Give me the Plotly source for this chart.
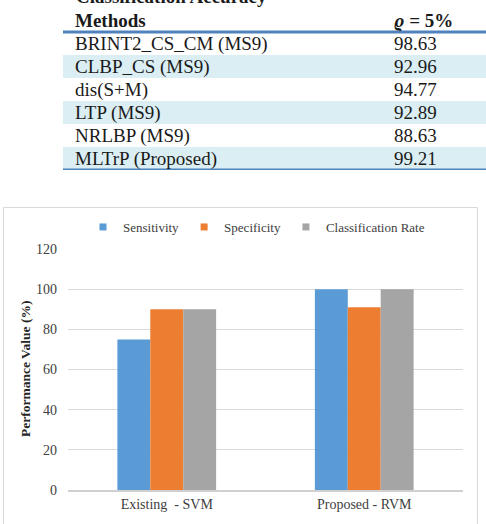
import plotly.graph_objects as go

W, H = 486, 524

# ---- table data ----
table_title = "Classification Accuracy"
col_headers = ["Methods", "<i>ϱ</i> = 5%"]
methods = ["BRINT2_CS_CM (MS9)", "CLBP_CS (MS9)", "dis(S+M)", "LTP (MS9)",
           "NRLBP (MS9)", "MLTrP (Proposed)"]
accuracy = ["98.63", "92.96", "94.77", "92.89", "88.63", "99.21"]

# ---- chart data ----
categories = ["Existing  - SVM", "Proposed - RVM"]
series_names = ["Sensitivity", "Specificity", "Classification Rate"]
sensitivity = [75, 100]
specificity = [90, 91]
class_rate = [90, 100]
series_values = [sensitivity, specificity, class_rate]
colors = ["#5B9BD5", "#ED7D31", "#A5A5A5"]
y_ticks = [0, 20, 40, 60, 80, 100, 120]


def px(x):
    return x / W


def py(y):
    return 1 - y / H


SERIF = "Liberation Serif"
TXT = "#1a1a1a"
shade = "#DAEEF3"
rule = "#4F81BD"
col2_x = (393 - 63) / (486 - 63)

fig = go.Figure()

for name, vals, c in zip(series_names, series_values, colors):
    fig.add_trace(go.Bar(x=categories, y=vals, name=name, marker_color=c,
                         marker_line_width=0, showlegend=False,
                         xaxis="x", yaxis="y"))
    fig.add_trace(go.Scatter(x=[None], y=[None], mode="markers", name=name,
                             marker=dict(symbol="square", size=7, color=c),
                             xaxis="x", yaxis="y", hoverinfo="skip"))

# table laid out on its own hidden axes: x in [0,1], y = row index (0 = header)
shapes = []
annotations = []
n_rows = len(methods)
for i in range(1, n_rows + 1):
    if i % 2 == 0:
        shapes.append(dict(type="rect", xref="x2", yref="y2", x0=0, x1=1,
                           y0=i - 0.5, y1=i + 0.5, fillcolor=shade,
                           line_width=0, layer="below"))
for yy in (0.5, n_rows + 0.5):
    shapes.append(dict(type="line", xref="x2", yref="y2", x0=0, x1=1,
                       y0=yy, y1=yy, line=dict(color=rule, width=3)))

tfont = dict(family=SERIF, size=19, color=TXT)
annotations.append(dict(text="<b>" + table_title + "</b>", xref="paper", yref="paper",
                        x=px(74), y=py(-4), xanchor="left", yanchor="middle",
                        showarrow=False, font=tfont))
for j, hx in enumerate([0, col2_x]):
    annotations.append(dict(text="<b>" + col_headers[j] + "</b>", xref="x2", yref="y2",
                            x=hx, y=0, xanchor="left", yanchor="middle",
                            xshift=10 if j == 0 else -1, showarrow=False, font=tfont))
for i, (m, a) in enumerate(zip(methods, accuracy), start=1):
    annotations.append(dict(text=m, xref="x2", yref="y2", x=0, y=i,
                            xanchor="left", yanchor="middle", xshift=10,
                            showarrow=False, font=tfont))
    annotations.append(dict(text=a, xref="x2", yref="y2", x=col2_x, y=i,
                            xanchor="left", yanchor="middle", xshift=-1,
                            showarrow=False, font=tfont))

shapes.append(dict(type="rect", xref="paper", yref="paper", x0=px(3.5), x1=px(477.5),
                   y0=py(530), y1=py(207.5), line=dict(color="#D9D9D9", width=1)))

annotations.append(dict(text="<b>Performance Value (%)</b>", xref="paper", yref="paper",
                        x=px(25), y=py(369), xanchor="center", yanchor="middle",
                        textangle=-90, showarrow=False,
                        font=dict(family=SERIF, size=13.5, color="#262626")))

fig.update_layout(
    width=W, height=H,
    margin=dict(l=0, r=0, t=0, b=0, autoexpand=False),
    paper_bgcolor="white", plot_bgcolor="rgba(0,0,0,0)",
    barmode="group", bargap=0.5, bargroupgap=0,
    shapes=shapes, annotations=annotations,
    font=dict(family=SERIF, size=13, color="#404040"),
    legend=dict(orientation="h", x=px(83), xanchor="left", y=py(227),
                yanchor="middle", font=dict(family=SERIF, size=13, color="#404040"),
                itemwidth=30, bgcolor="rgba(0,0,0,0)"),
    xaxis=dict(domain=[px(68), px(463)], showline=True, linecolor="#D0D0D0",
               linewidth=1.5, ticks="", tickfont=dict(family=SERIF, size=14, color="#404040"),
               showgrid=False, fixedrange=True, automargin=False),
    yaxis=dict(domain=[py(490), py(249)], range=[0, 120], tickvals=y_ticks,
               showgrid=True, gridcolor="#D9D9D9", gridwidth=1, zeroline=False,
               ticks="", ticklabelstandoff=10, fixedrange=True, automargin=False,
               tickfont=dict(family=SERIF, size=14, color="#404040")),
    xaxis2=dict(domain=[px(63), 1], range=[0, 1], visible=False, fixedrange=True,
                automargin=False),
    yaxis2=dict(domain=[py(170), py(9)], range=[n_rows + 0.5, -0.5], visible=False,
                fixedrange=True, automargin=False),
)

fig.write_html("out.html")
